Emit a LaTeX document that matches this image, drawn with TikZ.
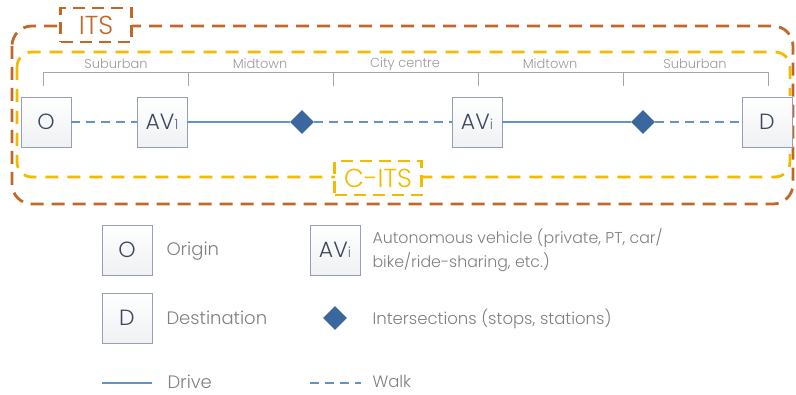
\documentclass[tikz,border=0pt]{standalone}
\usepackage{fontspec}
\setmainfont{Poppins Light}
\usetikzlibrary{shapes.geometric}
\definecolor{itsbrown}{RGB}{192,104,42}
\definecolor{citsgold}{RGB}{242,186,0}
\definecolor{roadblue}{RGB}{98,146,200}
\definecolor{stopblue}{RGB}{58,104,158}
\definecolor{boxline}{RGB}{150,160,178}
\definecolor{boxtext}{RGB}{62,72,92}
\definecolor{labelgray}{RGB}{128,128,128}
\newcommand{\avsub}[1]{{\color{boxtext!80}\fontsize{14}{14}\selectfont #1}}
\begin{document}
\begin{tikzpicture}[x=1pt,y=-1pt,
  place/.style={draw=boxline,line width=0.8pt,top color=white,bottom color=boxline!15,minimum size=50pt,inner sep=0pt,text=boxtext,font=\fontsize{22}{22}\selectfont},
  stop/.style={diamond,fill=stopblue,minimum size=24pt,inner sep=0pt},
  drive/.style={roadblue,line width=2pt},
  walk/.style={roadblue,line width=2pt,dash pattern=on 9pt off 6pt},
  zone/.style={text=gray!80,font=\fontsize{13}{14}\selectfont},
  tag/.style={fill=white,line width=2.5pt,dash pattern=on 12pt off 7pt,inner sep=0pt,font=\fontsize{26}{26}\selectfont},
  legend/.style={anchor=west,text=labelgray,align=left,font=\fontsize{15.8}{24}\selectfont},
  biglegend/.style={legend,font=\fontsize{18}{24}\selectfont}]
\useasboundingbox (0,0) rectangle (796,395);
% frames
\draw[itsbrown,line width=2.8pt,dash pattern=on 13pt off 8pt,rounded corners=20pt] (12,26) rectangle (793,204);
\draw[citsgold,line width=2.8pt,dash pattern=on 13pt off 9pt,rounded corners=15pt] (17,52) rectangle (790,177);
\node[tag,draw=itsbrown,text=itsbrown,minimum width=71pt,minimum height=34pt] (its) at (96,25) {ITS};
\node[tag,draw=citsgold,text=citsgold,minimum width=87pt,minimum height=34pt] (cits) at (378,178) {C-ITS};
% zones
\draw[gray!70,line width=0.8pt] (43,86) -- (43,72) -- (768,72) -- (768,86);
\foreach \x in {188,333,478,623} \draw[gray!70,line width=0.8pt] (\x,72) -- (\x,86);
\foreach \x/\t [count=\i] in {116/Suburban,260/Midtown,405/City centre,550/Midtown,695/Suburban}
  \node[zone] (zone\i) at (\x,64) {\t};
% trip
\node[place] (orig) at (46,122) {O};
\node[place] (av1) at (162,122) {AV\avsub{1}};
\node[stop] (s1) at (302,122) {};
\node[place] (avi) at (477,122) {AV\avsub{i}};
\node[stop] (s2) at (643,122) {};
\node[place] (dest) at (767,122) {D};
\draw[walk] (orig) -- (av1);
\draw[drive] (av1) -- (s1);
\draw[walk] (s1) -- (avi);
\draw[drive] (avi) -- (s2);
\draw[walk] (s2) -- (dest);
% legend
\node[place] (lorig) at (127,250) {O};
\node[biglegend] (torig) at (163,251) {Origin};
\node[place] (ldest) at (127,318) {D};
\node[biglegend] (tdest) at (163,318) {Destination};
\coordinate (ldrive) at (102,383);
\coordinate (rdrive) at (152,383);
\draw[drive] (ldrive) -- (rdrive);
\node[biglegend] (tdrive) at (164,382) {Drive};
\node[place] (lav) at (335,250) {AV\avsub{i}};
\node[legend] (tav) at (369,250) {Autonomous vehicle (private, PT, car/\\bike/ride-sharing, etc.)};
\node[stop] (lstop) at (335,318) {};
\node[legend,font=\fontsize{16.5}{20}\selectfont] (tstop) at (369,319) {Intersections (stops, stations)};
\coordinate (lwalk) at (310,383);
\coordinate (rwalk) at (361,383);
\draw[walk] (lwalk) -- (rwalk);
\node[legend,font=\fontsize{16.5}{20}\selectfont] (twalk) at (369,381) {Walk};
\end{tikzpicture}
\end{document}
